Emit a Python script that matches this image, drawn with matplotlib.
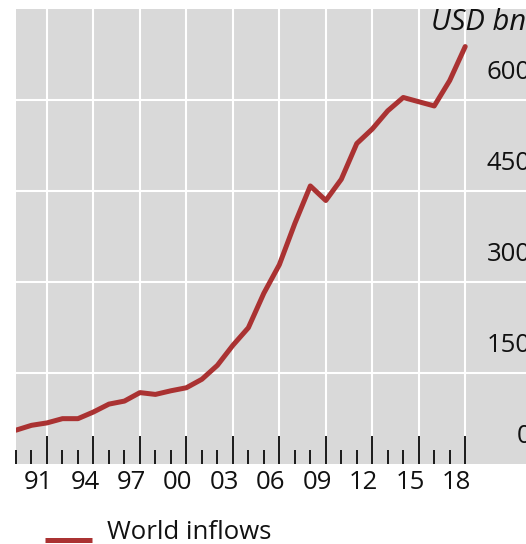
import matplotlib
matplotlib.use("Agg")
import matplotlib.pyplot as plt
from matplotlib.lines import Line2D

# World FDI inflows, USD bn
years = list(range(1989, 2019))
world_inflows = [55, 63, 67, 74, 74, 85, 98, 103, 117, 114,
                 120, 125, 139, 162, 195, 224, 281, 328, 396, 458,
                 434, 469, 528, 552, 582, 604, 597, 590, 632, 688]

y_ticks = [0, 150, 300, 450, 600]
x_major = list(range(1991, 2019, 3))
x_major_labels = ["91", "94", "97", "00", "03", "06", "09", "12", "15", "18"]
x_minor = [y for y in range(1989, 2019) if y not in x_major]

FONT = "Open Sans"
RED = "#AA3232"
GREY = "#D9D9D9"

W, H = 526, 544
fig = plt.figure(figsize=(W / 100, H / 100), dpi=100)

left_px, right_px, top_px, bottom_px = 16, 526, 9, 463.5
ax = fig.add_axes([left_px / W, 1 - bottom_px / H,
                   (right_px - left_px) / W, (bottom_px - top_px) / H])
ax.set_facecolor(GREY)
for s in ax.spines.values():
    s.set_visible(False)

px_per_year = 15.49
ax.set_xlim(1989, 1989 + (right_px - left_px) / px_per_year)
ax.set_ylim(0, 750)

ax.set_yticks([150, 300, 450, 600])
ax.set_xticks(x_major)
ax.set_xticks(x_minor, minor=True)
ax.grid(True, which="major", color="white", linewidth=1.5)
ax.set_axisbelow(True)
ax.tick_params(axis="y", left=False, right=False, labelleft=False, labelright=False)
ax.tick_params(axis="x", which="major", direction="in", length=20.5, width=1.4,
               color="#1a1a1a", labelbottom=False)
ax.tick_params(axis="x", which="minor", direction="in", length=9.8, width=1.4,
               color="#1a1a1a")

ax.plot(years, world_inflows, color=RED, linewidth=3.6,
        solid_capstyle="round", solid_joinstyle="round", zorder=3)

# Value labels on the right, sitting above their gridlines
for v in y_ticks:
    ax.annotate(str(v), xy=(1.0, v), xycoords=("axes fraction", "data"),
                xytext=(5, 27), textcoords="offset pixels",
                ha="right", va="center", fontsize=18.5, family=FONT,
                color="#111111", annotation_clip=False)

# Year labels below the axis
for yr, lab in zip(x_major, x_major_labels):
    ax.annotate(lab, xy=(yr, 0), xycoords=("data", "axes fraction"),
                xytext=(-8.5, -25.5), textcoords="offset pixels",
                ha="center", va="baseline", fontsize=18.5, family=FONT,
                color="#111111", annotation_clip=False)

# Unit label
fig.text(526 / W, 1 - 30.5 / H, "USD bn", ha="right", va="baseline",
         fontsize=21, family=FONT, style="italic", color="#111111")

# Legend
fig.add_artist(Line2D([45 / W, 92 / W], [1 - 540 / H, 1 - 540 / H],
                      color=RED, linewidth=3.6, solid_capstyle="butt"))
fig.text(107 / W, 1 - 539 / H, "World inflows", ha="left", va="baseline",
         fontsize=18.5, family=FONT, color="#111111")

fig.savefig("out.png", dpi=100)
